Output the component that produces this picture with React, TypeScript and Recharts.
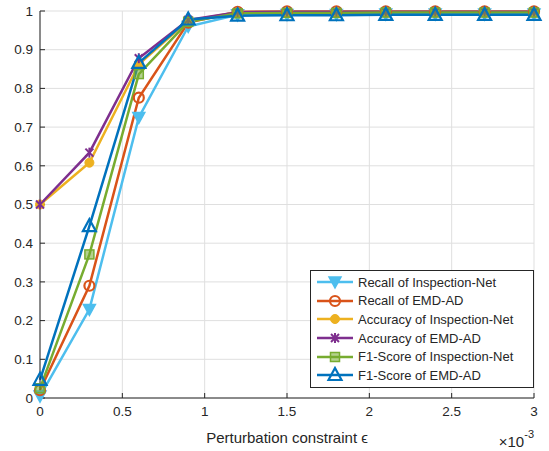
import React from 'react';
import {CartesianGrid, Label, Legend, Line, LineChart, XAxis, YAxis} from 'recharts';

// perturbation constraint, in units of 1e-3
const epsilon = [0, 0.3, 0.6, 0.9, 1.2, 1.5, 1.8, 2.1, 2.4, 2.7, 3.0];
const recallInspection = [0.005, 0.229, 0.725, 0.96, 0.99, 0.991, 0.991, 0.992, 0.992, 0.992, 0.992];
const recallEmd = [0.02, 0.29, 0.776, 0.97, 0.998, 0.999, 0.999, 0.999, 0.999, 0.999, 0.999];
const accInspection = [0.5, 0.608, 0.862, 0.975, 0.997, 0.998, 0.998, 0.998, 0.998, 0.998, 0.998];
const accEmd = [0.5, 0.634, 0.878, 0.977, 0.997, 0.998, 0.998, 0.998, 0.998, 0.998, 0.998];
const f1Inspection = [0.025, 0.371, 0.837, 0.972, 0.994, 0.995, 0.995, 0.996, 0.996, 0.996, 0.996];
const f1Emd = [0.047, 0.444, 0.866, 0.978, 0.988, 0.989, 0.989, 0.99, 0.99, 0.99, 0.99];

const xTicks = [0, 0.5, 1, 1.5, 2, 2.5, 3];
const yTicks = [0, 0.1, 0.2, 0.3, 0.4, 0.5, 0.6, 0.7, 0.8, 0.9, 1];

const series = [
    {key: 'recallInspection', name: 'Recall of Inspection-Net', color: '#4DBEEE', shape: 'down', values: recallInspection},
    {key: 'recallEmd', name: 'Recall of EMD-AD', color: '#D95319', shape: 'circle', values: recallEmd},
    {key: 'accInspection', name: 'Accuracy of Inspection-Net', color: '#EDB120', shape: 'dot', values: accInspection},
    {key: 'accEmd', name: 'Accuracy of EMD-AD', color: '#7E2F8E', shape: 'star', values: accEmd},
    {key: 'f1Inspection', name: 'F1-Score of Inspection-Net', color: '#77AC30', shape: 'square', values: f1Inspection},
    {key: 'f1Emd', name: 'F1-Score of EMD-AD', color: '#0072BD', shape: 'up', values: f1Emd},
];

const data = epsilon.map((x, i) => {
    const row: any = {x};
    series.forEach((s) => (row[s.key] = s.values[i]));
    return row;
});

const font = '"Liberation Sans", Arial, Helvetica, sans-serif';
const ink = '#262626';

const Marker = ({cx, cy, shape, color}: any) => {
    if (cx == null || cy == null) return null;
    switch (shape) {
        case 'down':
            return <polygon points={`${cx - 6},${cy - 5} ${cx + 6},${cy - 5} ${cx},${cy + 6}`} fill={color} stroke={color} strokeWidth={1.5} />;
        case 'up':
            return <polygon points={`${cx},${cy - 7} ${cx + 6.5},${cy + 5} ${cx - 6.5},${cy + 5}`} fill='none' stroke={color} strokeWidth={2.2} />;
        case 'circle':
            return <circle cx={cx} cy={cy} r={5} fill='none' stroke={color} strokeWidth={2.2} />;
        case 'dot':
            return <circle cx={cx} cy={cy} r={4.5} fill={color} stroke={color} strokeWidth={1} />;
        case 'star':
            return (
                <g stroke={color} strokeWidth={2}>
                    <line x1={cx - 4} y1={cy - 4} x2={cx + 4} y2={cy + 4} />
                    <line x1={cx - 4} y1={cy + 4} x2={cx + 4} y2={cy - 4} />
                    <line x1={cx} y1={cy - 5} x2={cx} y2={cy + 5} />
                </g>
            );
        case 'square':
            return <rect x={cx - 4.5} y={cy - 4.5} width={9} height={9} fill={color} fillOpacity={0.55} stroke={color} strokeWidth={1.5} />;
        default:
            return null;
    }
};

const LegendBox = () => (
    <div
        style={{
            border: `1px solid ${ink}`,
            background: '#fff',
            width: 224,
            padding: '2px 0',
            boxSizing: 'border-box',
            fontFamily: font,
            fontSize: 13,
            color: ink,
        }}
    >
        {series.map((s) => (
            <div key={s.key} style={{display: 'flex', alignItems: 'center', height: 18.6}}>
                <svg width={42} height={18} style={{marginLeft: 4}}>
                    <line x1={2} y1={9} x2={38} y2={9} stroke={s.color} strokeWidth={2.5} />
                    <Marker cx={20} cy={9} shape={s.shape} color={s.color} />
                </svg>
                <span style={{marginLeft: 1, whiteSpace: 'nowrap'}}>{s.name}</span>
            </div>
        ))}
    </div>
);

const ExponentLabel = ({viewBox}: any) => {
    const right = viewBox.x + viewBox.width;
    return (
        <text x={right} y={447} textAnchor='end' fill={ink} fontFamily={font} fontSize={15}>
            ×10
            <tspan dy={-9} fontSize={11}>-3</tspan>
        </text>
    );
};

const App = () => {
    return (
        <div style={{position: 'absolute', left: 0, top: 0, width: 549, height: 451, background: '#fff'}}>
            <LineChart width={549} height={451} data={data} margin={{top: 11, right: 15, bottom: 0, left: 0}}>
                <CartesianGrid stroke='#dfdfdf' strokeWidth={1} />
                <XAxis
                    dataKey='x'
                    type='number'
                    domain={[0, 3]}
                    ticks={xTicks}
                    interval={0}
                    height={53}
                    tickSize={-5}
                    tickMargin={13}
                    stroke={ink}
                    tick={{fill: ink, fontSize: 13.5, fontFamily: font}}
                >
                    <Label
                        value='Perturbation constraint ϵ'
                        position='insideBottom'
                        offset={8}
                        fill={ink}
                        fontSize={15}
                        fontFamily={font}
                    />
                    <Label content={<ExponentLabel />} />
                </XAxis>
                <XAxis
                    xAxisId='top'
                    orientation='top'
                    dataKey='x'
                    type='number'
                    domain={[0, 3]}
                    ticks={xTicks}
                    height={0}
                    tickSize={-5}
                    tick={false}
                    stroke={ink}
                />
                <YAxis
                    type='number'
                    domain={[0, 1]}
                    ticks={yTicks}
                    interval={0}
                    width={40}
                    tickSize={-5}
                    tickMargin={12}
                    stroke={ink}
                    tick={{fill: ink, fontSize: 13.5, fontFamily: font}}
                />
                <YAxis
                    yAxisId='right'
                    orientation='right'
                    type='number'
                    domain={[0, 1]}
                    ticks={yTicks}
                    width={0}
                    tickSize={-5}
                    tick={false}
                    stroke={ink}
                />
                {series.map((s) => (
                    <Line
                        key={s.key}
                        dataKey={s.key}
                        name={s.name}
                        stroke={s.color}
                        strokeWidth={2.5}
                        isAnimationActive={false}
                        dot={(p: any) => <Marker key={`${s.key}-${p.index}`} cx={p.cx} cy={p.cy} shape={s.shape} color={s.color} />}
                        activeDot={false}
                    />
                ))}
                <Legend
                    layout='vertical'
                    align='center'
                    verticalAlign='middle'
                    content={<LegendBox />}
                    wrapperStyle={{left: 310, top: 270, width: 224}}
                />
            </LineChart>
        </div>
    );
};

export default App;
